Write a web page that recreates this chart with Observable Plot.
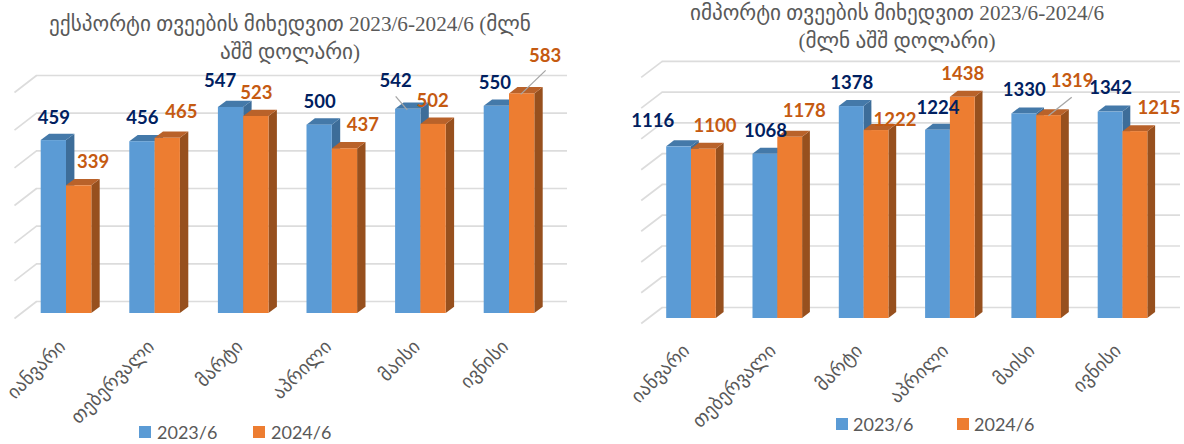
<!DOCTYPE html>
<html>
<head>
<meta charset="utf-8">
<script src="https://cdn.jsdelivr.net/npm/d3@7"></script>
<script src="https://cdn.jsdelivr.net/npm/@observablehq/plot@0.6"></script>
<style>
html,body{margin:0;padding:0;background:#fff;}
#root{position:relative;width:1184px;height:444px;overflow:hidden;}
.title{position:absolute;text-align:center;color:#595959;font:21.2px/28px "Liberation Serif","DejaVu Sans",sans-serif;white-space:nowrap;}
.leg{position:absolute;color:#595959;font:18px "Lato",sans-serif;white-space:nowrap;}
.sw{position:absolute;width:12px;height:12px;}
svg{position:absolute;overflow:visible;}
</style>
</head>
<body>
<div id="root"></div>
<script>
const months = ["იანვარი","თებერვალი","მარტი","აპრილი","მაისი","ივნისი"];
const seriesNames = ["2023/6","2024/6"];
const exports2023 = [459,456,547,500,542,550];
const exports2024 = [339,465,523,437,502,583];
const imports2023 = [1116,1068,1378,1224,1330,1342];
const imports2024 = [1100,1178,1222,1438,1319,1215];
const exportTicks = [0,100,200,300,400,500,600];
const importTicks = [0,200,400,600,800,1000,1200,1400,1600];
const exportTitle = ["ექსპორტი თვეების მიხედვით 2023/6-2024/6 (მლნ","აშშ დოლარი)"];
const importTitle = ["იმპორტი თვეების მიხედვით 2023/6-2024/6","(მლნ აშშ დოლარი)"];

// label nudges (px) from each bar's top-centre
const exportNudge = [
  [[0,-23],[0,-23.5],[-11,-26],[0,-23],[-12.6,-28],[-2,-23]],
  [[14,-23.6],[13.6,-26],[0,-23.3],[18,-23.7],[-1,-23.7],[23,-38]]
];
const importNudge = [
  [[-26.4,-26],[0,-23],[0,-23.3],[0,-22.4],[0,-23.4],[0,-24]],
  [[11,-23],[14,-26],[18.5,-10.7],[0,-23],[23,-34.4],[23.6,-23.4]]
];
// leader lines: series, month, label-end nudge, bar-end nudge (px)
const exportLeaders = [[0,4,[-12.6,-13],[-1,0.5]],[1,5,[23.5,-23.5],[-1.5,0.5]]];
const importLeaders = [[1,4,[22.6,-18.5],[-0.7,0.2]]];

const faceColors = [
  {front:"#5b9bd5",side:"#3d6d99",top:"#4479a9",label:"#002060"},
  {front:"#ed7d31",side:"#97501e",top:"#b9622a",label:"#c55a11"}
];

function chart(o){
  const gx = o.groupStep, k = o.pxPerUnit;
  const X = p => p/gx, Y = p => p/k;          // px → data units
  const bw = X(o.barWidth), ddx = X(o.depthX), ddy = Y(o.depthY);
  const marks = [];
  const wall = Y(o.wallUp), floor = -Y(o.floorDown);
  // grid on back wall, slanted on side wall
  marks.push(Plot.ruleY(o.ticks,{y:d=>d+wall,x1:X(o.wallLeft),x2:X(o.wallRight),stroke:"#dcdcdc",strokeWidth:1.7}));
  marks.push(Plot.link(o.ticks,{x1:X(o.wallLeft),y1:d=>d+wall,x2:X(o.floorLeft),y2:d=>d+floor,stroke:"#dcdcdc",strokeWidth:1.7}));
  o.series.forEach((vals,s)=>{
    const c = faceColors[s];
    const rows = vals.map((v,i)=>({id:i,v,x1:i-bw+s*bw,x2:i+s*bw}));
    const side = rows.flatMap(r=>[
      {id:r.id,x:r.x2,y1:0,y2:r.v},
      {id:r.id,x:r.x2+ddx,y1:ddy,y2:r.v+ddy}]);
    const top = rows.flatMap(r=>[
      {id:r.id,y:r.v,x1:r.x1,x2:r.x2},
      {id:r.id,y:r.v+ddy,x1:r.x1+ddx,x2:r.x2+ddx}]);
    marks.push(Plot.areaY(side,{x:"x",y1:"y1",y2:"y2",z:"id",fill:c.side}));
    marks.push(Plot.areaX(top,{y:"y",x1:"x1",x2:"x2",z:"id",fill:c.top}));
    marks.push(Plot.rect(rows,{x1:"x1",x2:"x2",y1:0,y2:"v",fill:c.front}));
  });
  // leaders
  const lead = o.leaders.map(([s,i,a,b])=>{
    const bx = i-bw/2+s*bw, v = o.series[s][i];
    return {x1:bx+X(a[0]),y1:v-Y(a[1]),x2:bx+X(b[0]),y2:v-Y(b[1])};
  });
  marks.push(Plot.link(lead,{x1:"x1",y1:"y1",x2:"x2",y2:"y2",stroke:"#a6a6a6",strokeWidth:1.3}));
  // value labels
  o.series.forEach((vals,s)=>{
    const rows = vals.map((v,i)=>({
      v,
      x:i-bw/2+s*bw+X(o.nudge[s][i][0]),
      y:v-Y(o.nudge[s][i][1])
    }));
    marks.push(Plot.text(rows,{x:"x",y:"y",text:d=>String(d.v),fill:faceColors[s].label,
      fontSize:18.5,fontWeight:700,fontFamily:"Lato, sans-serif",textAnchor:"middle",lineAnchor:"middle"}));
  });
  marks.push(Plot.axisX({ticks:d3.range(months.length),tickFormat:i=>months[i],tickSize:0,tickPadding:o.tickPad,
    tickRotate:-45,textAnchor:"end",lineAnchor:"middle",dx:o.tickDx,label:null,
    fontSize:19,fontFamily:"DejaVu Sans, sans-serif",color:"#595959",fill:"#595959"}));
  const svg = Plot.plot({
    width:o.width,height:o.height,
    marginLeft:o.ml,marginRight:o.width-o.ml-gx*5,
    marginTop:o.zeroY-k*o.ticks[o.ticks.length-1],
    marginBottom:o.height-o.zeroY,
    x:{type:"linear",domain:[0,5],axis:null},
    y:{type:"linear",domain:[0,o.ticks[o.ticks.length-1]],axis:null},
    style:{background:"transparent",overflow:"visible"},
    marks
  });
  svg.style.left = o.left+"px";
  svg.style.top = "0px";
  return svg;
}

const root = document.getElementById("root");
root.appendChild(chart({
  left:0,width:590,height:410,ml:66,groupStep:88.6,zeroY:313,pxPerUnit:0.3767,barWidth:25.3,
  depthX:8.4,depthY:6.3,wallUp:12,floorDown:5,wallLeft:-30,wallRight:501,floorLeft:-52,
  ticks:exportTicks,series:[exports2023,exports2024],nudge:exportNudge,leaders:exportLeaders,tickPad:30,tickDx:-4
}));
root.appendChild(chart({
  left:0,width:1184,height:410,ml:691,groupStep:86.3,zeroY:318,pxPerUnit:0.1538,barWidth:24.8,
  depthX:7.8,depthY:6,wallUp:11,floorDown:5,wallLeft:-29.3,wallRight:489,floorLeft:-50.3,
  ticks:importTicks,series:[imports2023,imports2024],nudge:importNudge,leaders:importLeaders,tickPad:29,tickDx:-5
}));

function addTitle(lines,cx,top){
  const d = document.createElement("div");
  d.className = "title";
  d.style.left = (cx-300)+"px"; d.style.width = "600px"; d.style.top = top+"px";
  d.innerHTML = lines.join("<br>");
  root.appendChild(d);
}
addTitle(exportTitle,290,10);
addTitle(importTitle,897,-1);

function addLegend(items,y){
  items.forEach(([sx,tx],s)=>{
    const sw = document.createElement("div");
    sw.className = "sw"; sw.style.left = sx+"px"; sw.style.top = y+"px";
    sw.style.background = faceColors[s].front;
    root.appendChild(sw);
    const t = document.createElement("div");
    t.className = "leg"; t.style.left = tx+"px"; t.style.top = (y-5)+"px";
    t.textContent = seriesNames[s];
    root.appendChild(t);
  });
}
addLegend([[139,157],[253,271]],426);
addLegend([[836,853],[957,974]],418);
</script>
</body>
</html>
